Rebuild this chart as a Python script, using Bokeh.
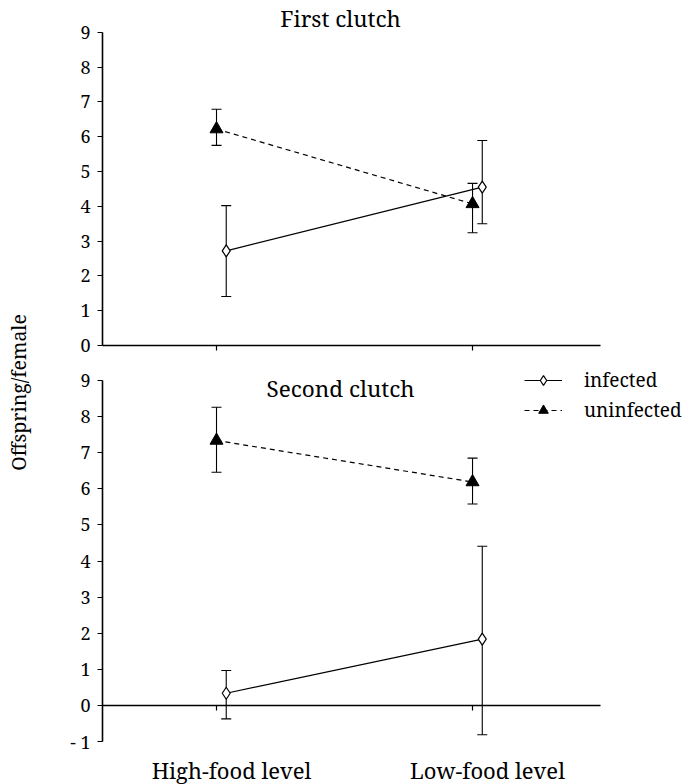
import math
from bokeh.plotting import figure
from bokeh.layouts import row, column
from bokeh.models import (ColumnDataSource, Whisker, TeeHead, Legend, LegendItem,
                          FixedTicker, Range1d)
from bokeh.transform import dodge
from bokeh.embed import file_html
from bokeh.resources import INLINE
from bokeh.core.properties import value

# ---------------- data ----------------
categories = ["High-food level", "Low-food level"]
cat_pos = [1, 2]

first_infected = [2.72, 4.55]
first_infected_lo = [1.41, 3.50]
first_infected_hi = [4.02, 5.89]
first_uninfected = [6.22, 4.07]
first_uninfected_lo = [5.75, 3.24]
first_uninfected_hi = [6.79, 4.66]

second_infected = [0.34, 1.84]
second_infected_lo = [-0.37, -0.81]
second_infected_hi = [0.97, 4.41]
second_uninfected = [7.34, 6.19]
second_uninfected_lo = [6.46, 5.58]
second_uninfected_hi = [8.26, 6.85]

first_yticks = list(range(0, 10))
second_yticks = list(range(-1, 10))
series_names = ["infected", "uninfected"]
panel_titles = ["First clutch", "Second clutch"]
y_label = "Offspring/female"

# ---------------- style ----------------
FONT = "Noto Serif"
INF_SHIFT = 0.038
X_RANGE = (0.3516, 2.824)
X_BOUNDS = (0.5547, 2.5)


def tick_text(t):
    return ("- " + str(-t)) if t < 0 else str(t)


def style_axes(p, yticks):
    p.grid.visible = False
    p.outline_line_color = None
    p.yaxis.fixed_location = X_BOUNDS[0]
    p.xaxis.fixed_location = 0
    p.yaxis.ticker = FixedTicker(ticks=yticks)
    p.yaxis.bounds = (yticks[0], yticks[-1])
    for ax in (p.xaxis[0], p.yaxis[0]):
        ax.axis_line_width = 1.6
        ax.axis_line_color = "black"
        ax.major_tick_line_color = "black"
        ax.major_tick_line_width = 1.2
        ax.major_tick_in = 0
        ax.major_tick_out = 5
        ax.minor_tick_line_color = None
        ax.major_label_text_font_size = "1px"
        ax.major_label_standoff = 0
        ax.major_label_text_color = None
    p.xaxis.bounds = X_BOUNDS
    p.xaxis.ticker = FixedTicker(ticks=cat_pos)
    # tick labels drawn as text so the serif face is used
    p.text(x=[X_BOUNDS[0]] * len(yticks), y=yticks, text=[tick_text(t) for t in yticks],
           x_offset=-12, text_align="right", text_baseline="middle",
           text_font=value(FONT), text_font_size="18px", text_color="black")


def draw_series(p, inf, inf_lo, inf_hi, un, un_lo, un_hi):
    src_i = ColumnDataSource(dict(x=cat_pos, y=inf, lo=inf_lo, hi=inf_hi))
    src_u = ColumnDataSource(dict(x=cat_pos, y=un, lo=un_lo, hi=un_hi))
    xi = dodge("x", INF_SHIFT)
    for src, xs in ((src_i, xi), (src_u, "x")):
        w = Whisker(base=xs, upper="hi", lower="lo", source=src,
                    line_color="black", line_width=1.1,
                    upper_head=TeeHead(size=10, line_color="black", line_width=1.1),
                    lower_head=TeeHead(size=10, line_color="black", line_width=1.1))
        p.add_layout(w)
    li = p.line(x=xi, y="y", source=src_i, line_color="black", line_width=1.2)
    lu = p.line(x="x", y="y", source=src_u, line_color="black", line_width=1.2,
                line_dash="5 4")
    si = p.scatter(x=xi, y="y", source=src_i, marker="diamond", size=12,
                   fill_color="white", line_color="black", line_width=1.2)
    su = p.scatter(x="x", y="y", source=src_u, marker="triangle", size=13,
                   fill_color="black", line_color="black")
    return li, si, lu, su


def add_title(p, text, y, yoff):
    p.text(x=[1.5], y=[y], text=[text], x_offset=-4, y_offset=yoff,
           text_align="center", text_baseline="middle",
           text_font=value(FONT), text_font_size="22.5px", text_color="black")


# ---------------- top panel (frame: abs y 0..357, zero at 345) ----------------
top = figure(width=643, height=360, x_range=Range1d(*X_RANGE), y_range=Range1d(-0.345, 9.914),
             output_backend="svg", toolbar_location=None,
             min_border_left=10, min_border_right=0, min_border_top=0, min_border_bottom=3)
style_axes(top, first_yticks)
draw_series(top, first_infected, first_infected_lo, first_infected_hi,
            first_uninfected, first_uninfected_lo, first_uninfected_hi)
add_title(top, panel_titles[0], 9, -14)

# ---------------- bottom panel (frame: abs y 360..752) ----------------
bot = figure(width=643, height=395, x_range=Range1d(*X_RANGE), y_range=Range1d(-1.3, 9.554),
             output_backend="svg", toolbar_location=None,
             min_border_left=10, min_border_right=0, min_border_top=0, min_border_bottom=3)
style_axes(bot, second_yticks)
li, si, lu, su = draw_series(bot, second_infected, second_infected_lo, second_infected_hi,
                             second_uninfected, second_uninfected_lo, second_uninfected_hi)
add_title(bot, panel_titles[1], 9, 8)

legend = Legend(items=[LegendItem(label=series_names[0], renderers=[li, si]),
                       LegendItem(label=series_names[1], renderers=[lu, su])],
                location=(474, 329), orientation="vertical",
                padding=0, margin=0, spacing=4,
                glyph_width=38, glyph_height=24, label_height=24, label_standoff=22,
                border_line_color=None, background_fill_alpha=0,
                label_text_font=FONT, label_text_font_size="19px",
                label_text_color="black")
bot.add_layout(legend)

# ---------------- category labels ----------------
cats = figure(width=643, height=29, x_range=Range1d(*X_RANGE), y_range=Range1d(0, 1),
              output_backend="svg", toolbar_location=None,
              min_border_left=10, min_border_right=0, min_border_top=0, min_border_bottom=0)
cats.axis.visible = False
cats.grid.visible = False
cats.outline_line_color = None
cats.text(x=cat_pos, y=[0.5] * len(cat_pos), text=categories, x_offset=15,
          text_align="center", text_baseline="middle",
          text_font=value(FONT), text_font_size="22px", text_color="black")

# ---------------- y label ----------------
lab = figure(width=40, height=784, x_range=Range1d(0, 1), y_range=Range1d(0, 1),
             output_backend="svg", toolbar_location=None,
             min_border_left=0, min_border_right=0, min_border_top=0, min_border_bottom=0)
lab.axis.visible = False
lab.grid.visible = False
lab.outline_line_color = None
lab.text(x=[0.45], y=[0.5], text=[y_label], angle=math.pi / 2,
         text_align="center", text_baseline="middle",
         text_font=value(FONT), text_font_size="19.5px", text_color="black")

layout = row(lab, column(top, bot, cats))
open("out.html", "w").write(file_html(layout, INLINE))
